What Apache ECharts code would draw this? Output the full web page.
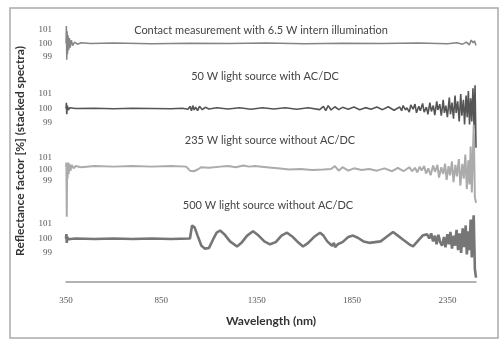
<!DOCTYPE html>
<html>
<head>
<meta charset="utf-8">
<script src="https://cdn.jsdelivr.net/npm/echarts@6/dist/echarts.min.js"></script>
<style>
  html, body { margin: 0; padding: 0; background: #fff; }
  #chart { width: 502px; height: 340px; }
</style>
</head>
<body>
<div id="chart"></div>
<script>
// stacked reflectance spectra, [wavelength nm, reflectance %]
var spectrumNames = [
  'Contact measurement with 6.5 W intern illumination',
  '50 W light source with AC/DC',
  '235 W light source without AC/DC',
  '500 W light source without AC/DC'
];
var yTicks = [99, 100, 101];
var xTicks = [350, 850, 1350, 1850, 2350];

var contact = [[350,100],[352,101.3],[354,98.8],[356,100.9],[358,99.2],[361,100.6],[364,99.5],[368,100.4],[372,99.7],[378,100.25],[385,99.85],[395,100.1],[410,99.95],[430,100.05],[480,100],[600,100.03],[800,99.98],[1000,100.02],[1200,100],[1400,100.03],[1600,99.98],[1800,100.02],[2000,100],[2200,100.03],[2350,99.98],[2400,100.05],[2430,99.95],[2450,100.1],[2465,99.9],[2475,100.25],[2485,100.05],[2492,100.2],[2500,99.85]];

var w50 = [[350,100],[352,100.4],[354,99.6],[357,100.2],[362,99.9],[370,100.05],[400,100],[500,100.02],[600,99.98],[700,100.02],[800,100],[900,99.98],[960,100.02],[990,99.95],[1000,100.15],[1008,99.85],[1015,100.2],[1022,99.9],[1030,100.1],[1040,99.85],[1050,100.15],[1065,99.92],[1080,100.08],[1100,99.97],[1140,100.05],[1200,99.97],[1260,100.05],[1320,99.95],[1380,100.05],[1440,99.97],[1500,100.05],[1560,99.95],[1620,100.05],[1680,99.92],[1700,100.15],[1712,99.85],[1725,100.2],[1740,99.9],[1760,100.12],[1780,99.92],[1800,100.08],[1830,99.95],[1860,100.1],[1890,99.92],[1920,100.06],[1950,99.95],[1980,100.1],[2010,99.92],[2040,100.12],[2070,99.88],[2100,100.1],[2110,99.85],[2118,100.2],[2130,99.9],[2138,100.05],[2150,99.75],[2158,100.25],[2170,99.95],[2180,100.3],[2188,99.7],[2200,100.15],[2208,99.85],[2220,100.35],[2228,99.75],[2240,100.1],[2248,99.6],[2258,100.4],[2266,99.8],[2276,100.2],[2284,99.55],[2294,100.5],[2300,99.9],[2310,100.3],[2318,99.5],[2328,100.6],[2334,99.7],[2342,100.2],[2350,99.4],[2360,100.75],[2366,99.6],[2374,100.4],[2382,99.3],[2390,100.9],[2396,99.7],[2404,100.5],[2412,99.1],[2420,101.0],[2426,99.5],[2434,100.6],[2440,98.9],[2448,100.9],[2454,99.4],[2460,101.2],[2466,98.9],[2472,100.7],[2478,99.1],[2484,101.4],[2490,98.6],[2495,101.6],[2500,97.3]];

var w235 = [[350,100.2],[352,100.6],[354,95.9],[356,100.5],[358,99.2],[361,100.6],[364,99.6],[368,100.5],[373,99.9],[380,100.4],[390,100.1],[400,100.3],[430,100.2],[500,100.3],[600,100.25],[700,100.3],[800,100.25],[900,100.3],[980,100.25],[1000,99.9],[1020,99.85],[1040,100.0],[1060,100.2],[1100,100.15],[1160,100.25],[1200,100.3],[1240,100.2],[1280,100.35],[1310,100.25],[1340,100.3],[1400,100.2],[1460,100.1],[1520,100.0],[1580,100.05],[1640,99.95],[1700,100.0],[1740,100.05],[1760,100.3],[1780,99.9],[1800,100.2],[1830,99.9],[1860,100.1],[1900,99.95],[1940,100.05],[1980,99.9],[2020,100.1],[2060,99.85],[2090,100.15],[2120,99.85],[2150,100.2],[2165,99.85],[2180,100.15],[2192,99.75],[2205,100.25],[2215,99.9],[2228,100.3],[2238,99.65],[2250,100.1],[2262,99.5],[2275,100.35],[2285,99.8],[2298,100.4],[2306,99.3],[2318,100.2],[2328,99.6],[2338,100.5],[2346,99.1],[2356,100.3],[2364,99.5],[2374,100.7],[2382,98.9],[2392,100.4],[2400,99.4],[2410,100.9],[2418,98.6],[2428,100.5],[2436,99.2],[2444,101.3],[2452,98.3],[2460,100.8],[2466,98.7],[2472,102.0],[2478,98.0],[2484,101.5],[2488,103.9],[2494,97.6],[2500,97.1]];

var w500 = [[350,100],[352,100.3],[354,99.7],[357,100.1],[362,99.95],[400,100],[500,99.97],[600,100],[700,99.97],[800,100],[900,99.97],[1000,100],[1005,100.05],[1011,100.9],[1025,100.75],[1040,100.2],[1060,99.5],[1079,99.3],[1100,99.35],[1120,99.9],[1140,100.4],[1158,100.55],[1180,100.3],[1210,99.8],[1247,99.45],[1270,99.7],[1300,100.2],[1331,100.5],[1360,100.2],[1390,99.8],[1420,99.6],[1450,99.75],[1480,100.2],[1509,100.4],[1540,100.1],[1570,99.7],[1593,99.45],[1620,99.7],[1650,100.1],[1682,100.4],[1700,100.2],[1720,99.8],[1745,99.5],[1755,99.7],[1761,99.4],[1775,99.6],[1800,99.75],[1830,100.1],[1855,100.2],[1880,100.05],[1910,99.8],[1940,99.7],[1970,99.75],[2000,99.8],[2030,100.1],[2065,100.45],[2090,100.2],[2120,99.9],[2150,99.6],[2170,99.45],[2200,99.9],[2220,100.2],[2243,100.3],[2255,100.0],[2265,100.35],[2275,99.8],[2285,100.2],[2293,99.6],[2303,100.25],[2312,99.75],[2322,99.5],[2332,100.1],[2340,99.4],[2350,100.3],[2358,99.6],[2366,100.45],[2374,99.3],[2383,100.2],[2390,99.5],[2398,100.6],[2406,99.2],[2414,100.35],[2422,99.0],[2430,100.7],[2438,99.4],[2446,100.9],[2452,98.9],[2460,100.5],[2466,99.2],[2472,101.3],[2478,98.7],[2484,100.9],[2488,101.6],[2494,97.9],[2500,97.3]];

var spectra = [contact, w50, w235, w500];
var colors = ['#858585', '#555555', '#ababab', '#767676'];
var widths = [1.5, 1.6, 2, 2.6];

var chart = echarts.init(document.getElementById('chart'));

// one small grid per spectrum, plus a full grid for the shared x axis
var panelTops = [30, 94, 158, 224];
var panelHeights = [27, 29, 23, 29];
var titleY = [30, 76, 140, 205];
var titleX = [261, 265, 270, 268];

var grids = [], xAxes = [], yAxes = [], series = [], texts = [];
for (var i = 0; i < 4; i++) {
  grids.push({ left: 66, right: 26, top: panelTops[i], height: panelHeights[i] });
  xAxes.push({ gridIndex: i, type: 'value', min: 350, max: 2500, show: false });
  yAxes.push({
    gridIndex: i, type: 'value', min: yTicks[0], max: yTicks[2], interval: 1,
    axisLine: { show: false }, axisTick: { show: false }, splitLine: { show: false },
    axisLabel: { margin: 14, color: '#555', fontSize: 9, fontFamily: 'Liberation Serif' }
  });
  series.push({
    name: spectrumNames[i], type: 'line', xAxisIndex: i, yAxisIndex: i,
    data: spectra[i], showSymbol: false, clip: false,
    lineStyle: { color: colors[i], width: widths[i] }
  });
  texts.push({
    type: 'text', x: titleX[i], y: titleY[i],
    style: { text: spectrumNames[i], font: '11px Lato', fill: '#444', align: 'center', verticalAlign: 'middle' }
  });
}
grids.push({ left: 66, right: 26, top: 20, bottom: 58 });
xAxes.push({
  gridIndex: 4, type: 'value', min: 350, max: 2500, interval: 500,
  name: 'Wavelength (nm)', nameLocation: 'middle', nameGap: 33,
  nameTextStyle: { fontSize: 12, fontWeight: 'bold', color: '#333', fontFamily: 'Lato' },
  axisLine: { lineStyle: { color: '#999', width: 1.5 } },
  axisTick: { show: false }, splitLine: { show: false },
  axisLabel: { margin: 14, color: '#555', fontSize: 9, fontFamily: 'Liberation Serif', showMaxLabel: false,
    formatter: function (v) { return xTicks.indexOf(v) >= 0 ? v : ''; } }
});
yAxes.push({
  gridIndex: 4, type: 'value', min: 0, max: 1,
  name: 'Reflectance factor [%] (stacked spectra)', nameLocation: 'middle', nameGap: 40, nameRotate: 90,
  nameTextStyle: { fontSize: 12, fontWeight: 'bold', color: '#333', fontFamily: 'Lato' },
  axisLine: { show: false }, axisTick: { show: false }, splitLine: { show: false },
  axisLabel: { show: false }
});
texts.push({
  type: 'rect', shape: { x: 10, y: 8, width: 488, height: 330 },
  style: { fill: 'none', stroke: '#aaa', lineWidth: 1.5 }, z: -1
});

chart.setOption({
  animation: false,
  backgroundColor: '#fff',
  grid: grids,
  xAxis: xAxes,
  yAxis: yAxes,
  series: series,
  graphic: texts
});
window.addEventListener('resize', function () { chart.resize(); });
</script>
</body>
</html>
